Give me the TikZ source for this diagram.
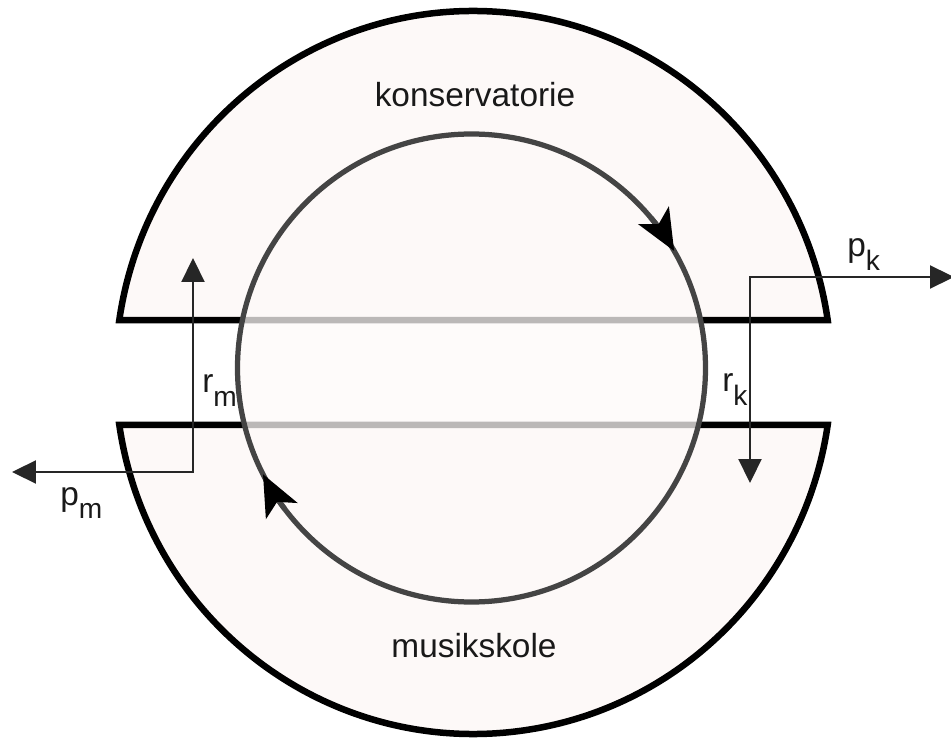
\documentclass[tikz,border=0pt]{standalone}
\usepackage{fontspec}
\setmainfont{Liberation Sans}
\usetikzlibrary{arrows.meta}
\definecolor{shellpink}{RGB}{253,249,248}
\definecolor{ringgray}{RGB}{68,68,68}
\newcommand{\lab}[2]{#1\raisebox{-0.28cm}{\fontsize{16}{16}\selectfont #2}}

\begin{document}
\begin{tikzpicture}[x=0.02cm, y=0.02cm,
    shell/.style={draw=black, line width=0.13cm, fill=shellpink},
    ring/.style={draw=ringgray, line width=0.105cm},
    arr/.style={{Triangle[length=0.48cm, width=0.46cm]}-{Triangle[length=0.48cm, width=0.46cm]}, line width=0.045cm, draw=black!85},
    flow/.style={-{Stealth[length=0.82cm, width=0.7cm, inset=0.2cm, color=black]}, line width=0.105cm, draw=ringgray},
    txt/.style={font=\fontsize{19}{19}\selectfont, text=black!90, inner sep=0pt}
]
\useasboundingbox (0,0) rectangle (951,738);
\coordinate (mid) at (473.5,365.5);
\coordinate (hub) at (471.5,370);

\draw[shell] (mid) ++(171.65:358 and 361.5) arc[start angle=171.65, end angle=8.35, x radius=358, y radius=361.5] -- cycle;
\draw[shell] (mid) ++(188.35:358 and 361.5) arc[start angle=188.35, end angle=351.65, x radius=358, y radius=361.5] -- cycle;

\draw[ring, fill=shellpink, fill opacity=0.74] (hub) circle[radius=234];
\draw[flow] (hub) ++(40:234) arc[start angle=40, end angle=30, radius=234];
\draw[flow] (hub) ++(217:234) arc[start angle=217, end angle=207, radius=234];

\node[txt, anchor=base] (kons) at (475,631) {konservatorie};
\node[txt, anchor=base] (musik) at (474,81) {musikskole};
\node[txt, anchor=base west] (pk) at (847,481) {\lab{p}{k}};
\node[txt, anchor=base west] (rk) at (722,346) {\lab{r}{k}};
\node[txt, anchor=base west] (rm) at (202,345) {\lab{r}{m}};
\node[txt, anchor=base west] (pm) at (60,233) {\lab{p}{m}};

\coordinate (kturn) at (750,461);
\coordinate (kout) at (954,461);
\coordinate (kin) at (750,255);
\coordinate (mturn) at (193,266);
\coordinate (mout) at (12,266);
\coordinate (min) at (193,480);
\draw[arr] (kout) -- (kturn) -- (kin);
\draw[arr] (min) -- (mturn) -- (mout);
\end{tikzpicture}
\end{document}
